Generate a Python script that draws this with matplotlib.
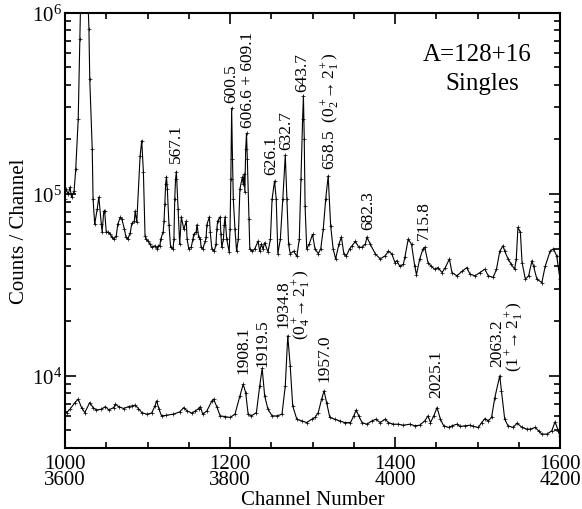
import matplotlib
matplotlib.use("Agg")
import matplotlib.pyplot as plt
from matplotlib.ticker import LogLocator, NullFormatter, LogFormatterMathtext, MultipleLocator

plt.rcParams['font.family'] = ['Liberation Serif', 'DejaVu Serif']
plt.rcParams['mathtext.fontset'] = 'custom'
plt.rcParams['mathtext.rm'] = 'Liberation Serif'
plt.rcParams['mathtext.it'] = 'Liberation Serif:italic'

# upper spectrum (channels 1000-1600)
top_ch = [1000, 1001, 1004, 1006, 1008, 1011, 1013, 1016, 1018, 1019, 1021, 1025, 1027, 1028, 1029, 1030,
          1033, 1034, 1036, 1039, 1041, 1044, 1045, 1047, 1048, 1050, 1052, 1055, 1057, 1059, 1062,
          1064, 1067, 1069, 1072, 1074, 1076, 1079, 1081, 1084, 1085, 1087, 1091, 1093, 1095, 1097,
          1098, 1101, 1103, 1105, 1109, 1112, 1113, 1115, 1116, 1119, 1120, 1121, 1122, 1123, 1124,
          1126, 1128, 1131, 1132, 1133, 1134, 1135, 1137, 1139, 1141, 1144, 1147, 1148, 1150, 1153,
          1155, 1156, 1159, 1160, 1162, 1164, 1165, 1167, 1170, 1171, 1172, 1175, 1176, 1178, 1181,
          1183, 1184, 1185, 1188, 1189, 1190, 1192, 1193, 1194, 1196, 1199, 1200, 1201, 1202, 1203,
          1204, 1206, 1208, 1210, 1212, 1215, 1216, 1217, 1218, 1219, 1220, 1221, 1223, 1224, 1227,
          1230, 1234, 1236, 1238, 1240, 1242, 1246, 1249, 1251, 1254, 1256, 1258, 1261, 1264, 1267,
          1269, 1271, 1273, 1277, 1281, 1284, 1286, 1288, 1289, 1290, 1291, 1293, 1296, 1300, 1303,
          1307, 1310, 1313, 1316, 1319, 1322, 1325, 1328, 1332, 1335, 1338, 1341, 1345, 1348, 1352,
          1356, 1360, 1364, 1366, 1370, 1376, 1382, 1388, 1392, 1396, 1400, 1402, 1406, 1410, 1412,
          1416, 1420, 1424, 1426, 1430, 1434, 1436, 1440, 1444, 1448, 1452, 1457, 1461, 1466, 1469,
          1475, 1481, 1487, 1491, 1497, 1503, 1509, 1513, 1519, 1523, 1527, 1531, 1533, 1537, 1541,
          1545, 1547, 1549, 1552, 1554, 1558, 1562, 1566, 1568, 1572, 1578, 1582, 1588, 1592, 1596,
          1600]
top_counts = [93800, 107000, 100000, 109000, 96000, 104000, 137000, 259000, 714000, 1200000, 2500000,
              3000000, 1600000, 1100000, 811000, 430000,
              177000, 93800, 68300, 82700, 96300, 68300, 62000, 80600, 81000, 61800, 61800, 60200, 57700, 56500, 58500,
              68300, 74700, 72500, 64200, 57700, 56500, 61000, 69000, 71000, 80600, 70000, 162000, 197000, 133000, 59000,
              56500, 55000, 53000, 51000, 52000, 49800, 52000, 52000, 56500, 62000, 71000, 88000, 114000, 125000, 107000,
              68000, 51000, 50000, 56500, 94000, 121000, 133000, 83000, 53000, 75000, 64000, 71000, 56500, 50000, 51000,
              56500, 60000, 62000, 68000, 58000, 56500, 51000, 50000, 55000, 58000, 68000, 75000, 62000, 50000, 48500,
              53000, 64000, 71000, 75000, 60000, 51000, 56500, 68000, 75000, 56500, 48000, 64000, 121000, 297000, 156000,
              94000, 64000, 48500, 56500, 107000, 124000, 114000, 129000, 103000, 177000, 216000, 156000, 72500, 50000, 48500,
              50000, 55000, 48500, 53000, 50000, 54000, 48000, 56500, 94000, 118000, 94000, 47000, 56500, 94000, 164000,
              94000, 53000, 47000, 48500, 45500, 56500, 121000, 259000, 348000, 200000, 86000, 50000, 53000, 60000, 50000,
              47000, 50000, 64000, 94000, 126000, 67000, 50000, 44000, 53000, 58000, 47000, 45700, 50000, 52000, 55000,
              51000, 51000, 53000, 58000, 53000, 47000, 44000, 45700, 48500, 47000, 42000, 43000, 40000, 41000, 45000,
              56500, 53000, 40000, 36000, 44000, 50000, 51000, 42000, 40000, 38600, 39400, 37000, 39400, 44000, 37000,
              35500, 37500, 39400, 36200, 35500, 37000, 38600, 35500, 34800, 38600, 48500, 52000, 48500, 44000, 41000,
              38600, 44000, 65600, 61500, 42000, 34000, 35500, 43000, 40000, 34000, 32600, 40000, 48500, 50000, 45700,
              34000]

# lower spectrum (channels 3600-4200)
bot_ch = [3600, 3602, 3606, 3612, 3616, 3620, 3624, 3630, 3634, 3638, 3644, 3649, 3653, 3659, 3661,
          3665, 3671, 3677, 3681, 3685, 3689, 3693, 3699, 3705, 3709, 3711, 3714, 3717, 3723, 3731,
          3739, 3744, 3748, 3754, 3758, 3762, 3764, 3767, 3772, 3778, 3780, 3784, 3788, 3794, 3800,
          3806, 3812, 3816, 3819, 3822, 3826, 3832, 3836, 3839, 3842, 3846, 3851, 3857, 3863, 3867,
          3870, 3873, 3876, 3881, 3887, 3893, 3899, 3903, 3907, 3911, 3914, 3917, 3921, 3927, 3933,
          3939, 3946, 3950, 3953, 3956, 3960, 3966, 3972, 3977, 3982, 3988, 3992, 3998, 4004, 4010,
          4018, 4024, 4030, 4036, 4040, 4043, 4047, 4051, 4055, 4059, 4065, 4069, 4075, 4079, 4085,
          4091, 4095, 4101, 4105, 4109, 4113, 4117, 4121, 4127, 4129, 4133, 4137, 4143, 4148, 4154,
          4160, 4164, 4170, 4174, 4178, 4184, 4190, 4194, 4198, 4200]
bot_counts = [6400, 6270, 6540, 7120, 7430, 6680, 6270, 7120, 6680, 6480, 6540, 6760, 6480, 6680, 6970,
              6760, 6600, 6760, 6820, 6880, 6600, 6270, 6140, 6220, 6820, 7270, 6540, 6010, 6060, 6140,
              6320, 6680, 6400, 6220, 6400, 6600, 6760, 6140, 6400, 7270, 7430, 6760, 6010, 5960, 5890,
              6140, 7740, 8980, 8070, 6140, 6010, 6270, 8790, 10970, 7740, 6540, 6010, 6010, 6140, 8790,
              16600, 11300, 6820, 5760, 5640, 5520, 5760, 5890, 6270, 7430, 8250, 7120, 5890, 5760, 5640,
              5520, 5520, 6010, 6480, 6010, 5520, 5410, 5640, 5760, 5520, 5760, 5520, 5410, 5410, 5340,
              5410, 5300, 5340, 5640, 6010, 5520, 6010, 6680, 5760, 5300, 5190, 5300, 5410, 5260, 5300,
              5340, 5260, 5190, 5520, 5810, 5640, 5890, 7580, 10000, 8250, 5760, 5300, 5190, 5480, 5190,
              5080, 5080, 5190, 4970, 4770, 4770, 4970, 5580, 4970, 4660]

top_labels = ["567.1", "600.5", "606.6 + 609.1", "626.1", "632.7", "643.7",
              "658.5  (0$_2^+\\!\\!\\rightarrow$2$_1^+$)", "682.3", "715.8"]
top_label_ch = [1134, 1201, 1221.5, 1249.5, 1267.6, 1288, 1322, 1367, 1435]
top_label_y = [150000, 321000, 234000, 129000, 177000, 371000, 137000, 64000, 56500]

bot_labels = ["1908.1", "1919.5", "1934.8", "(0$_4^+\\!\\!\\rightarrow$2$_1^+$)", "1957.0", "2025.1",
              "2063.2", "(1$^+\\!\\!\\rightarrow$2$_1^+$)"]
bot_label_ch = [3815.8, 3839.4, 3864.6, 3887, 3914, 4049.7, 4124, 4145.5]
bot_label_y = [10300, 11300, 18500, 15900, 9350, 7590, 11300, 10600]

fig = plt.figure(figsize=(5.82, 5.10), dpi=100)
ax = fig.add_axes([0.1117, 0.1196, 0.8505, 0.8539])
ax2 = ax.twiny()

ax.plot(top_ch, top_counts, color='black', lw=0.8, marker='+', ms=2.5, mew=0.5)
ax2.plot(bot_ch, bot_counts, color='black', lw=0.8, marker='+', ms=2.5, mew=0.5)

ax.set_yscale('log')
ax.set_ylim(4000, 1e6)
ax.set_xlim(1000, 1600)
ax2.set_xlim(3600, 4200)
ax2.xaxis.set_visible(False)
for s in ax2.spines.values():
    s.set_visible(False)

ax.yaxis.set_major_locator(LogLocator(base=10))
ax.yaxis.set_minor_locator(LogLocator(base=10, subs=range(2, 10)))
ax.yaxis.set_major_formatter(LogFormatterMathtext())
ax.yaxis.set_minor_formatter(NullFormatter())

ax.set_xticks([1000, 1200, 1400, 1600])
ax.set_xticklabels(["1000\n3600", "1200\n3800", "1400\n4000", "1600\n4200"], linespacing=0.8)
ax.xaxis.set_minor_locator(MultipleLocator(50))

ax.tick_params(which='both', direction='in', top=True, right=True, labelsize=15, width=1.2)
ax.tick_params(which='major', length=8)
ax.tick_params(which='minor', length=4.5)
ax.tick_params(axis='x', pad=4)
ax.tick_params(axis='y', pad=2)
for s in ax.spines.values():
    s.set_linewidth(1.5)

for t, c, y in zip(top_labels, top_label_ch, top_label_y):
    ax.text(c, y, t, rotation=90, ha='center', va='bottom', fontsize=12.5)
for t, c, y in zip(bot_labels, bot_label_ch, bot_label_y):
    ax2.text(c, y, t, rotation=90, ha='center', va='bottom', fontsize=12.5)

ax.text(0.833, 0.905, "A=128+16", transform=ax.transAxes, ha='center', va='center', fontsize=18)
ax.text(0.842, 0.838, "Singles", transform=ax.transAxes, ha='center', va='center', fontsize=18)

ax.set_ylabel("Counts / Channel", fontsize=15, labelpad=2)
ax.set_xlabel("Channel Number", fontsize=15, labelpad=1)

fig.savefig("out.png", dpi=100)
